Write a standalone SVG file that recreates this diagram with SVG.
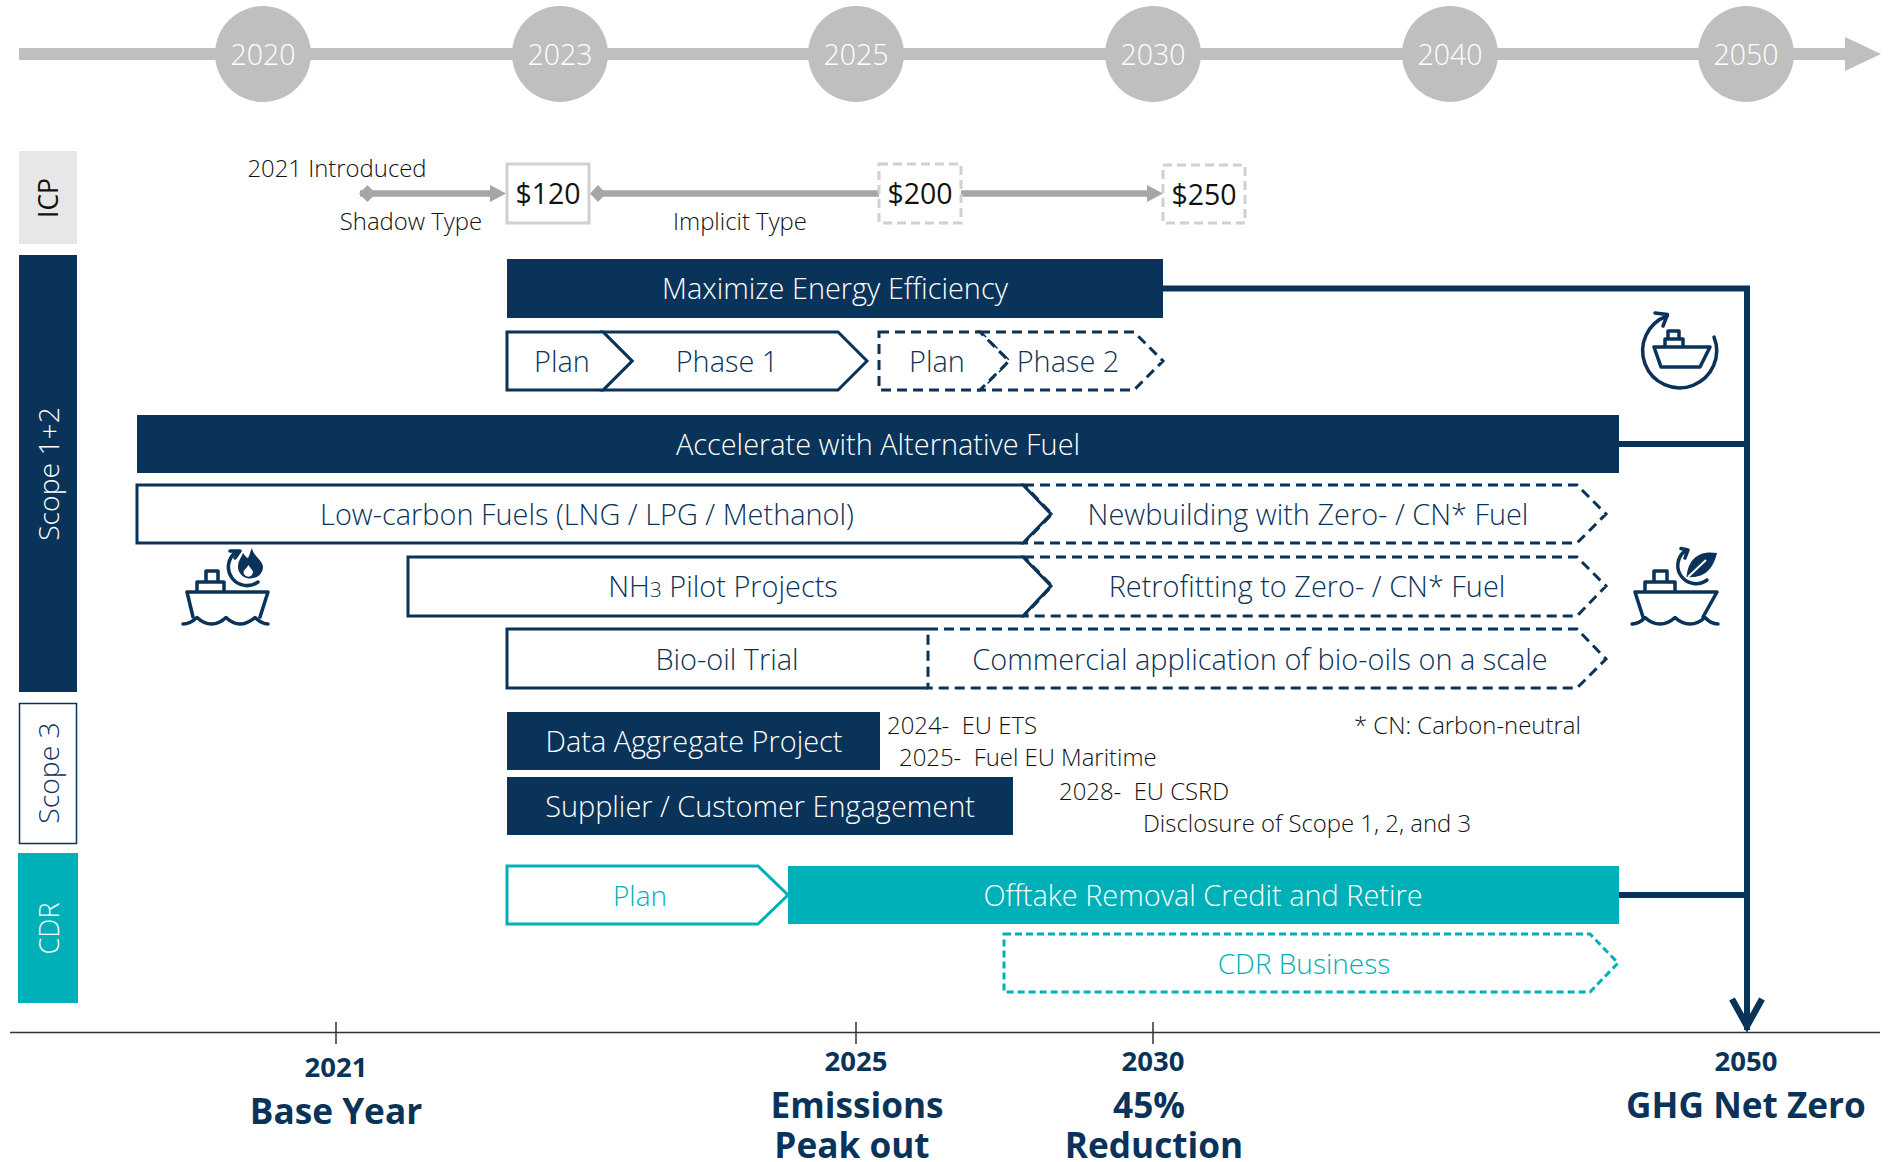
<svg xmlns="http://www.w3.org/2000/svg" width="1895" height="1162" viewBox="0 0 1895 1162">
<style>
text{font-family:"Open Sans","Noto Sans","Liberation Sans",sans-serif;text-anchor:middle;font-weight:300}
.y{fill:#fff;font-size:28.500px}
.w{fill:#fff;font-size:28.900px}
.n{fill:#0a3359;font-size:28.900px}
.r{font-size:28.300px}
.t{fill:#00b0b9;font-size:28px}
.k{fill:#111;font-size:23.900px;white-space:pre}
.s{text-anchor:start}
.p{fill:#111;font-size:28.500px;font-weight:400}
.b{fill:#0a3359;font-weight:700;font-size:27.500px}
.h{fill:#0a3359;font-weight:700;font-size:35.200px}
.navy{fill:#0a3359}
.teal{fill:#00b0b9}
.o{fill:#fff;stroke:#0a3359;stroke-width:3}
.d{fill:#fff;stroke:#0a3359;stroke-width:3;stroke-dasharray:10 6}
.ot{fill:#fff;stroke:#00b0b9;stroke-width:3}
.dt{fill:#fff;stroke:#00b0b9;stroke-width:3;stroke-dasharray:7 4}
.gb{fill:#fff;stroke:#d0d0d0;stroke-width:3}
.gd{fill:#fff;stroke:#d0d0d0;stroke-width:3;stroke-dasharray:9 5}
.ic{fill:none;stroke:#0a3359;stroke-width:3.500;stroke-linecap:round;stroke-linejoin:round}
</style>
<rect width="1895" height="1162" fill="#fff"/>
<g id="timeline">
<rect x="19" y="48" width="1830" height="12" fill="#bfbfbf"/>
<path d="M1845 37L1881 54L1845 71Z" fill="#bfbfbf"/>
<g fill="#bfbfbf"><circle cx="263" cy="54" r="48"/><circle cx="560" cy="54" r="48"/><circle cx="856" cy="54" r="48"/><circle cx="1153" cy="54" r="48"/><circle cx="1450" cy="54" r="48"/><circle cx="1746" cy="54" r="48"/></g>
<text class="y" x="263" y="65">2020</text><text class="y" x="560" y="65">2023</text><text class="y" x="856" y="65">2025</text><text class="y" x="1153" y="65">2030</text><text class="y" x="1450" y="65">2040</text><text class="y" x="1746" y="65">2050</text>
</g>
<g id="connectors">
<path d="M1163 288.500H1747V1030M1619 444H1747M1619 895H1747" fill="none" stroke="#0a3359" stroke-width="6"/>
<path d="M1732 999L1747 1026L1762 999" fill="none" stroke="#0a3359" stroke-width="6.500"/>
<path d="M360 193.500H500M596 193.500H879M961 193.500H1155" stroke="#a6a6a6" stroke-width="6.500" fill="none"/>
<path d="M359 193.500L367.500 185L376 193.500L367.500 202Z M590 193.500L598 185L606 193.500L598 202Z M490 185L506 193.500L490 202Z M1147 185L1163 193.500L1147 202Z" fill="#a6a6a6"/>
</g>
<g id="cat-icp"><rect x="19" y="151" width="58" height="93" fill="#e7e7e7"/><text class="p" transform="translate(58 198) rotate(-90)" style="font-size:26.500px">ICP</text></g>
<g id="cat-scope12"><rect x="19" y="255" width="58" height="437" class="navy"/><text class="w r" transform="translate(59 474) rotate(-90)">Scope 1+2</text></g>
<g id="cat-scope3"><rect x="19.500" y="703.500" width="57" height="140" fill="#fff" stroke="#0a3359" stroke-width="1.500"/><text class="n r" transform="translate(59 773) rotate(-90)">Scope 3</text></g>
<g id="cat-cdr"><rect x="18" y="853" width="60" height="150" class="teal"/><text class="w" transform="translate(59 928.500) rotate(-90)" style="font-size:27px">CDR</text></g>
<g id="icp-labels">
<text class="k" x="337" y="177">2021 Introduced</text>
<text class="k" x="411" y="230">Shadow Type</text>
<text class="k" x="740" y="230">Implicit Type</text>
</g>
<g id="icp-120"><rect class="gb" x="507" y="164" width="82" height="59"/><text class="p" x="548" y="204">$120</text></g>
<g id="icp-200"><rect class="gd" x="879" y="164" width="82" height="59"/><text class="p" x="920" y="204">$200</text></g>
<g id="icp-250"><rect class="gd" x="1163" y="165" width="82" height="58"/><text class="p" x="1204" y="205">$250</text></g>
<g id="maximize"><rect x="507" y="259" width="656" height="59" class="navy"/><text class="w" x="835" y="299">Maximize Energy Efficiency</text></g>
<g id="phase1"><path class="o" d="M603 332H838L867 361L838 390H603L632 361Z"/><text class="n" x="727" y="372">Phase 1</text></g>
<g id="plan1"><path class="o" d="M507 332H603L632 361L603 390H507Z"/><text class="n" x="562" y="372">Plan</text></g>
<g id="phase2"><path class="d" d="M980 332H1134L1163 361L1134 390H980L1009 361Z"/><text class="n" x="1068" y="372">Phase 2</text></g>
<g id="plan2"><path class="d" d="M879 332H980L1009 361L980 390H879Z"/><text class="n" x="937" y="372">Plan</text></g>
<g id="accelerate"><rect x="137" y="415" width="1482" height="58" class="navy"/><text class="w" x="878" y="455">Accelerate with Alternative Fuel</text></g>
<g id="newbuilding"><path class="d" d="M1024 485H1577L1606 514L1577 543H1024L1052 514Z"/><text class="n" x="1308" y="525">Newbuilding with Zero- / CN* Fuel</text></g>
<g id="lowcarbon"><path class="o" d="M137 485H1023L1051 514L1023 543H137Z"/><text class="n" x="587" y="525">Low-carbon Fuels (LNG / LPG / Methanol)</text></g>
<g id="retrofit"><path class="d" d="M1024 557H1577L1606 586L1577 616H1024L1052 586Z"/><text class="n" x="1307" y="597">Retrofitting to Zero- / CN* Fuel</text></g>
<g id="nh3"><path class="o" d="M408 557H1023L1051 586L1023 616H408Z"/><text class="n" x="723" y="597">NH<tspan style="font-size:21px">3</tspan> Pilot Projects</text></g>
<g id="biooil"><path d="M928 629H507V688H928" fill="#fff" stroke="#0a3359" stroke-width="3"/><text class="n" x="727" y="670">Bio-oil Trial</text></g>
<g id="commercial"><path class="d" d="M928 629H1577L1606 659L1577 688H928Z"/><text class="n" x="1260" y="670">Commercial application of bio-oils on a scale</text></g>
<g id="data"><rect x="507" y="712" width="373" height="58" class="navy"/><text class="w" x="694" y="752">Data Aggregate Project</text></g>
<g id="supplier"><rect x="507" y="777" width="506" height="58" class="navy"/><text class="w" x="760" y="817">Supplier / Customer Engagement</text></g>
<g id="regs">
<text class="k s" x="887" y="734">2024-  EU ETS</text>
<text class="k s" x="899" y="766">2025-  Fuel EU Maritime</text>
<text class="k s" x="1059" y="800">2028-  EU CSRD</text>
<text class="k s" x="1143" y="832">Disclosure of Scope 1, 2, and 3</text>
<text class="k s" x="1354" y="734">* CN: Carbon-neutral</text>
</g>
<g id="offtake"><rect x="788" y="866" width="831" height="58" class="teal"/><text class="w" x="1203" y="906">Offtake Removal Credit and Retire</text></g>
<g id="plan-cdr"><path class="ot" d="M507 866H758L788 895L758 924H507Z"/><text class="t" x="640" y="906">Plan</text></g>
<g id="cdr-business"><path class="dt" d="M1004 934H1590L1618 963L1590 992H1004Z"/><text class="t" x="1304" y="974">CDR Business</text></g>
<g id="icon-efficiency">
<path class="ic" d="M1714 337A37 37 0 1 1 1667 316"/>
<path class="ic" d="M1655 313L1667.500 314.500L1663 326"/>
<path class="ic" d="M1654 347H1710L1700 367H1661ZM1665 347V339H1683V347M1668 339V331H1679V339"/>
</g>
<g id="icon-fuel">
<path class="ic" d="M187 592H268L260 617M193 617L187 592M197 592V582H224V592M206 582V571H218V582"/>
<path class="ic" d="M183 624Q190 624 197 617.500Q204 624 211.500 624T226 617.500Q233 624 240 624T255 617.500Q262 624 268 624"/>
<path class="ic" d="M258 582A17 17 0 0 1 236 552"/>
<path class="ic" d="M230 551L240 551L235 558"/>
<path class="navy" d="M252 548C253 556 263 560 263 567A12.500 11.500 0 0 1 238 567C238 561 241 558 243 553C245 556 247 558 248 558C250 555 250 551 252 548Z"/>
<path fill="#fff" d="M248.500 565C250 568 253 570 253 572A4.700 4.700 0 0 1 243.500 572C243.500 570 247 568 248.500 565Z"/>
</g>
<g id="icon-bio">
<path class="ic" d="M1635 592H1717L1703 617M1643 617L1635 592M1645 592V582H1675V592M1654 582V571H1667V582"/>
<path class="ic" d="M1632 624Q1639 624 1645 617.500Q1652 624 1660 624T1675 617.500Q1682 624 1690 624T1705 617.500Q1711 624 1718 624"/>
<path class="ic" d="M1707 580A18 18 0 0 1 1685 551"/>
<path class="ic" d="M1681 548.500L1688 550L1685 558"/>
<path class="navy" d="M1717 553C1700 550 1688 558 1686.500 577C1700 578 1712 574 1717 553Z"/>
<path d="M1688 577L1706 560" stroke="#fff" stroke-width="2" fill="none"/>
</g>
<g id="axis">
<path d="M10 1032.500H1880M336 1022V1044M856 1022V1044M1153 1022V1044" stroke="#333" stroke-width="1.500" fill="none"/>
<text class="b" x="336" y="1077">2021</text><text class="h" x="336" y="1124">Base Year</text>
<text class="b" x="856" y="1071">2025</text><text class="h" x="857" y="1118">Emissions</text><text class="h" x="852" y="1158">Peak out</text>
<text class="b" x="1153" y="1071">2030</text><text class="h" x="1149" y="1118">45%</text><text class="h" x="1154" y="1158">Reduction</text>
<text class="b" x="1746" y="1071">2050</text><text class="h" x="1746" y="1118">GHG Net Zero</text>
</g>
</svg>
